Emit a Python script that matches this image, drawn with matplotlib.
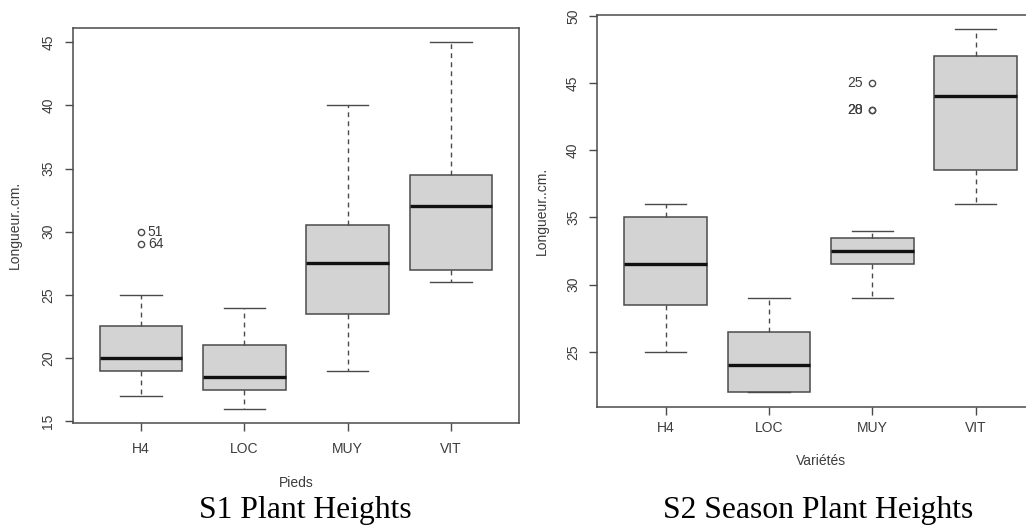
import matplotlib
matplotlib.use('Agg')
import matplotlib.pyplot as plt
import numpy as np

plt.rcParams['font.family'] = ['Liberation Sans', 'DejaVu Sans']

groups = ['H4', 'LOC', 'MUY', 'VIT']

# S1 : hauteurs des pieds
s1_low = [17, 16, 19, 26]
s1_q1 = [19, 17.5, 23.5, 27]
s1_med = [20, 18.5, 27.5, 32]
s1_q3 = [22.5, 21, 30.5, 34.5]
s1_high = [25, 24, 40, 45]
s1_out = [[30, 29], [], [], []]
s1_out_lab = [['51', '64'], [], [], []]

# S2 : hauteurs par variete
s2_low = [25, 22, 29, 36]
s2_q1 = [28.5, 22, 31.5, 38.5]
s2_med = [31.5, 24, 32.5, 44]
s2_q3 = [35, 26.5, 33.5, 47]
s2_high = [36, 29, 34, 49]
s2_out = [[], [], [45, 43, 43], []]
s2_out_lab = [[], [], ['25', '20', '28'], []]

s1_yticks = [15, 20, 25, 30, 35, 40, 45]
s2_yticks = [25, 30, 35, 40, 45, 50]

txt = '#3c3c3c'
ln = '#4a4a4a'


def make_stats(low, q1, med, q3, high, out):
    stats = []
    for i in range(len(groups)):
        stats.append(dict(whislo=low[i], q1=q1[i], med=med[i], q3=q3[i],
                          whishi=high[i], fliers=out[i], label=groups[i]))
    return stats


def draw(ax, stats, yticks, out, labs, xlab, side, off, lpad, ylx, xly):
    pos = np.arange(1, len(groups) + 1)
    ax.bxp(stats, positions=pos, widths=0.8, capwidths=0.4, patch_artist=True,
           boxprops=dict(facecolor='#d3d3d3', edgecolor=ln, linewidth=1.1),
           whiskerprops=dict(color=ln, linewidth=1.0, linestyle=(0, (3.5, 3))),
           capprops=dict(color=ln, linewidth=1.0),
           medianprops=dict(color='#111111', linewidth=2.4, solid_capstyle='butt'),
           flierprops=dict(marker='o', markersize=4.5, markerfacecolor='none',
                           markeredgecolor=ln, markeredgewidth=1.0))
    for i in range(len(groups)):
        for v, t in zip(out[i], labs[i]):
            ax.annotate(t, (pos[i], v), xytext=(side * off, 0), textcoords='offset points',
                        ha='left' if side > 0 else 'right', va='center',
                        fontsize=10, color=txt)
    allv = [s['whislo'] for s in stats] + [s['whishi'] for s in stats] + sum([s['fliers'] for s in stats], [])
    lo, hi = min(allv), max(allv)
    pad = (hi - lo) * 0.04
    ax.set_ylim(lo - pad, hi + pad)
    ax.set_xlim(0.5 - 0.16, len(groups) + 0.5 + 0.16)
    ax.set_yticks(yticks)
    ax.set_xticks(pos)
    ax.set_xticklabels(groups)
    ax.tick_params(axis='both', direction='out', length=5.5, width=1.0, color=ln,
                   labelcolor=txt, labelsize=10)
    ax.tick_params(axis='x', pad=lpad)
    ax.tick_params(axis='y', pad=7)
    for t in ax.get_yticklabels():
        t.set_rotation(90)
        t.set_va('center')
    for s in ax.spines.values():
        s.set_color(ln)
        s.set_linewidth(1.1)
    ax.set_xlabel(xlab, fontsize=10, color=txt)
    ax.set_ylabel('Longueur..cm.', fontsize=10, color=txt)
    ax.xaxis.label.set_va('baseline')
    ax.xaxis.set_label_coords(0.5, xly)
    ax.yaxis.label.set_va('center')
    ax.yaxis.set_label_coords(ylx, 0.5)


fig = plt.figure(figsize=(10.26, 5.28), dpi=100)
ax1 = fig.add_axes([0.0709, 0.1983, 0.4353, 0.7496])
ax2 = fig.add_axes([0.5822, 0.2297, 0.4353, 0.7425])

draw(ax1, make_stats(s1_low, s1_q1, s1_med, s1_q3, s1_high, s1_out), s1_yticks,
     s1_out, s1_out_lab, 'Pieds', 1, 5, 8, -0.130, -0.160)
draw(ax2, make_stats(s2_low, s2_q1, s2_med, s2_q3, s2_high, s2_out), s2_yticks,
     s2_out, s2_out_lab, 'Variétés', -1, 6.5, 5, -0.1245, -0.149)

fig.text(305.5 / 1026, 10 / 528, 'S1 Plant Heights', ha='center', va='baseline',
         family='Liberation Serif', fontsize=22.8, color='black')
fig.text(818.5 / 1026, 10 / 528, 'S2 Season Plant Heights', ha='center', va='baseline',
         family='Liberation Serif', fontsize=22.8, color='black')

fig.savefig('out.png', dpi=100)
